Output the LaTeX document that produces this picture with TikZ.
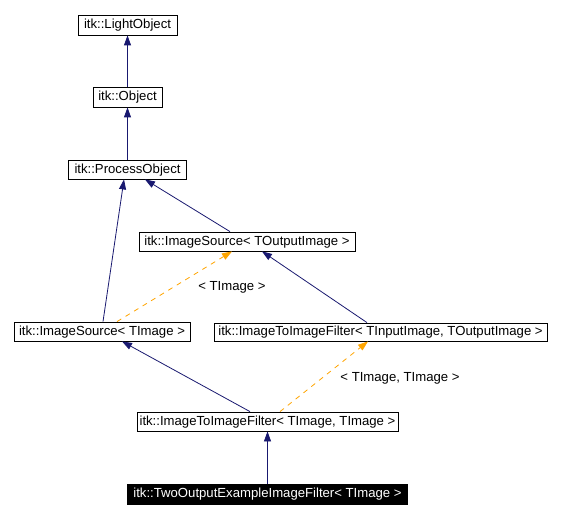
\documentclass[tikz,border=0pt]{standalone}
\usepackage{fontspec}
\setmainfont{Liberation Sans}
\usetikzlibrary{arrows.meta}
\definecolor{edgeblue}{HTML}{191970}
\definecolor{tplorange}{HTML}{FFA500}
\begin{document}
\begin{tikzpicture}[x=1bp,y=-1bp,
  cls/.style={draw=black,line width=0.8bp,inner sep=0pt,fill=white,
    font=\fontsize{13.2}{15}\selectfont,text height=9.8bp,text depth=2.6bp},
  inh/.style={draw=edgeblue,line width=0.8bp,-{Triangle[length=10bp,width=7bp]}},
  tpl/.style={draw=tplorange,line width=0.8bp,dash pattern=on 5bp off 5bp,-{Triangle[length=10bp,width=7bp]}},
  lbl/.style={font=\fontsize{13.2}{15}\selectfont,inner sep=0pt}]
\useasboundingbox[fill=white] (0,0) rectangle (561,518);
\node[cls,minimum width=99bp,minimum height=20bp] (LO) at (127.5,25) {itk::LightObject};
\node[cls,minimum width=69bp,minimum height=20bp] (Obj) at (127.5,97) {itk::Object};
\node[cls,minimum width=118bp,minimum height=19bp] (PO) at (127.5,169.5) {itk::ProcessObject};
\node[cls,minimum width=216bp,minimum height=19bp] (ISO) at (247,241.5) {itk::ImageSource< TOutputImage >};
\node[cls,minimum width=176bp,minimum height=19bp] (IST) at (102,331.5) {itk::ImageSource< TImage >};
\node[cls,minimum width=333bp,minimum height=18bp] (ITIF) at (380.5,332) {itk::ImageToImageFilter< TInputImage, TOutputImage >};
\node[cls,minimum width=261bp,minimum height=19bp] (ITT) at (267.5,421.5) {itk::ImageToImageFilter< TImage, TImage >};
\node[cls,fill=black,text=white,minimum width=280bp,minimum height=20bp] (Two) at (267.5,494) {itk::TwoOutputExampleImageFilter< TImage >};
\node[lbl] (l1) at (232,287) {< TImage >};
\node[lbl] (l2) at (400,378) {< TImage, TImage >};
\draw[inh] (Obj.north) -- (LO.south);
\draw[inh] (PO.north) -- (Obj.south);
\draw[inh] ([xshift=1bp]IST.north) -- ([xshift=-3.5bp]PO.south);
\draw[inh] ([xshift=-17bp]ISO.north) -- ([xshift=17.5bp]PO.south);
\draw[tpl] ([xshift=15bp]IST.north) -- ([xshift=-15bp]ISO.south);
\draw[inh] ([xshift=-13.5bp]ITIF.north) -- ([xshift=15bp]ISO.south);
\draw[inh] ([xshift=-17.5bp]ITT.north) -- ([xshift=20bp]IST.south);
\draw[tpl] ([xshift=12.5bp]ITT.north) -- ([xshift=-12.5bp]ITIF.south);
\draw[inh] (Two.north) -- (ITT.south);
\end{tikzpicture}
\end{document}
